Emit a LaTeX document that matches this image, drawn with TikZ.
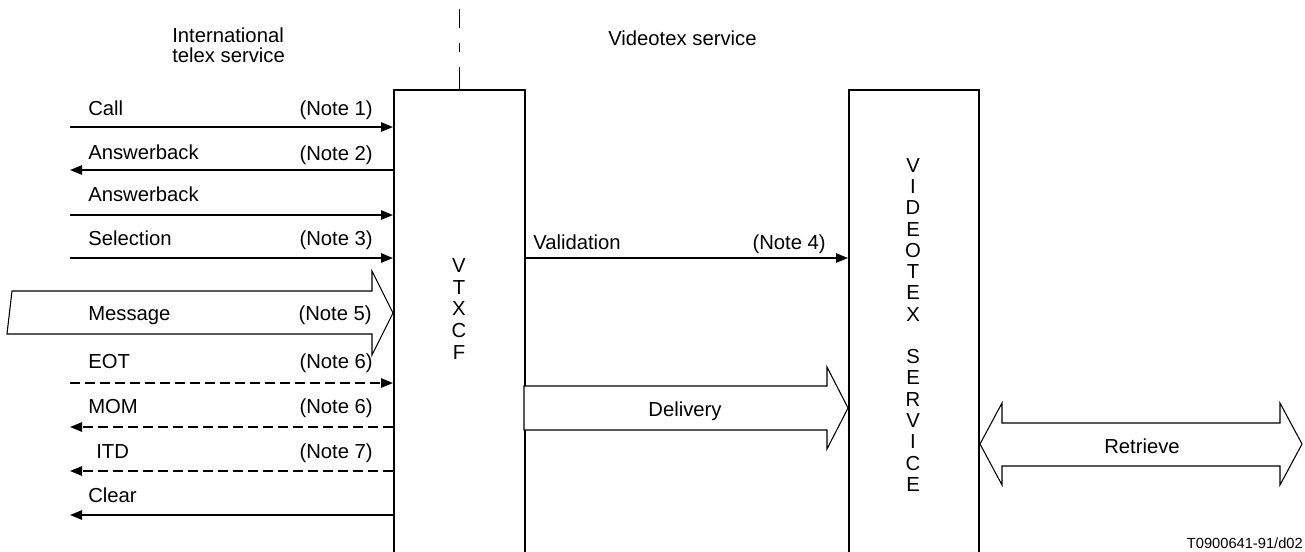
\documentclass[tikz,border=0pt]{standalone}
\usepackage{fontspec}
\setmainfont{Liberation Sans}
\usetikzlibrary{arrows.meta}
\begin{document}
\begin{tikzpicture}[x=0.75pt,y=-0.75pt,
  lbl/.style={inner sep=0pt, font=\fontsize{15.2}{17}\selectfont, text height=10.9pt, text depth=0pt},
  box/.style={draw, line width=1.5pt, inner sep=0pt, anchor=north west, minimum height=350pt},
  sig/.style={line width=1.3pt, -{Triangle[length=9pt,width=7pt]}},
  dsig/.style={sig, dash pattern=on 7.5pt off 3.75pt},
  fat/.style={draw, line width=0.8pt, fill=white, line join=miter},
  thin/.style={line width=0.8pt}]

\useasboundingbox (0,0) rectangle (1305,551);

% boxes
\node[box, minimum width=98.25pt] (vtx) at (393,89) {};
\node[box, minimum width=97.5pt] (vsv) at (848,89) {};

% boundary dash-dot line
\draw[thin] (vtx.north) -- ++(0,-22) ++(0,-15) -- ++(0,-9) ++(0,-15) -- ++(0,-19);

% headings
\node[lbl, anchor=west] (h1) at (172,35) {International};
\node[lbl, anchor=west] (h2) at (172,55) {telex service};
\node[lbl, anchor=west] (h3) at (608,38) {Videotex service};

% vertical letters
\foreach \l [count=\i from 0] in {V,T,X,C,F}
  \node[lbl] (vt\i) at (459,{265+21.75*\i}) {\l};
\foreach \l [count=\i from 0] in {V,I,D,E,O,T,E,X}
  \node[lbl] (va\i) at (913,{165+21.27*\i}) {\l};
\foreach \l [count=\i from 9] in {S,E,R,V,I,C,E}
  \node[lbl] (vb\i) at (913,{165+21.27*\i}) {\l};

% left-hand signal coordinates
\coordinate (a1) at (70,127);
\coordinate (a2) at (70,170);
\coordinate (a3) at (70,215);
\coordinate (a4) at (70,258);
\coordinate (a6) at (70,383);
\coordinate (a7) at (70,427);
\coordinate (a8) at (70,471);
\coordinate (a9) at (70,515);

\draw[sig] (a1) -- (a1 -| vtx.west);
\draw[sig] (a2 -| vtx.west) -- (a2);
\draw[sig] (a3) -- (a3 -| vtx.west);
\draw[sig] (a4) -- (a4 -| vtx.west);
\draw[dsig] (a6) -- (a6 -| vtx.west);
\draw[dsig] (a7 -| vtx.west) -- (a7);
\draw[dsig] (a8 -| vtx.west) -- (a8);
\draw[sig] (a9 -| vtx.west) -- (a9);

% validation
\draw[sig] (a4 -| vtx.east) -- (a4 -| vsv.west);

% wide arrows
\draw[fat] (12,291) -- (372,291) -- (372,271) -- (393,313) -- (372,355) -- (372,334) -- (7,334) -- cycle;
\draw[fat] (524,386) -- (827,386) -- (827,367) -- (848,408) -- (827,449) -- (827,430) -- (524,430) -- cycle;
\draw[fat] (980,444) -- (1002,403) -- (1002,423) -- (1280,423) -- (1280,403) -- (1302,444)
  -- (1280,485) -- (1280,466) -- (1002,466) -- (1002,485) -- cycle;

% labels
\node[lbl, anchor=west] (l1) at (88,108) {Call};
\node[lbl, anchor=west] (l2) at (88,152) {Answerback};
\node[lbl, anchor=west] (l3) at (88,194) {Answerback};
\node[lbl, anchor=west] (l4) at (88,238) {Selection};
\node[lbl, anchor=west] (l5) at (88,313) {Message};
\node[lbl, anchor=west] (l6) at (88,361) {EOT};
\node[lbl, anchor=west] (l7) at (88,406) {MOM};
\node[lbl, anchor=west] (l8) at (96,451) {ITD};
\node[lbl, anchor=west] (l9) at (88,495) {Clear};

\node[lbl, anchor=east] (n1) at (373,108) {(Note 1)};
\node[lbl, anchor=east] (n2) at (373,153) {(Note 2)};
\node[lbl, anchor=east] (n3) at (373,238) {(Note 3)};
\node[lbl, anchor=east] (n5) at (372,313) {(Note 5)};
\node[lbl, anchor=east] (n6) at (373,361) {(Note 6)};
\node[lbl, anchor=east] (n6b) at (373,406) {(Note 6)};
\node[lbl, anchor=east] (n7) at (373,451) {(Note 7)};

\node[lbl, anchor=west] (lv) at (533,242) {Validation};
\node[lbl, anchor=east] (n4) at (826,242) {(Note 4)};

\node[lbl] (ld) at (685,409) {Delivery};
\node[lbl] (lr) at (1142,446) {Retrieve};

\node[inner sep=0pt, anchor=east, font=\fontsize{11}{13}\selectfont, text height=8pt, text depth=0pt] (ref) at (1303,543) {T0900641-91/d02};
\end{tikzpicture}
\end{document}
